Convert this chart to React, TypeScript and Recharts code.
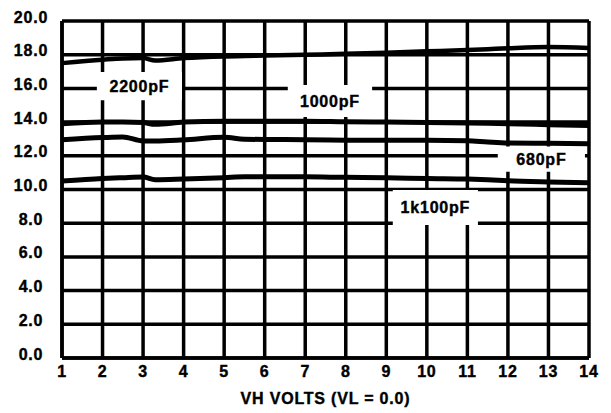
import { LineChart, Line, XAxis, YAxis, CartesianGrid, ReferenceArea } from "recharts";

// VH volts (x axis)
const vhVolts = [1, 2, 2.5, 3, 3.3, 4, 5, 5.5, 6, 7, 8, 9, 10, 11, 11.5, 12, 13, 14];

// curve values
const c2200 = [17.5, 17.7, 17.78, 17.8, 17.65, 17.8, 17.9, 17.92, 17.95, 18.0, 18.05, 18.12, 18.2, 18.28, 18.33, 18.38, 18.45, 18.4];
const c1000 = [13.9, 14.0, 14.0, 13.97, 13.87, 14.0, 14.05, 14.05, 14.05, 14.05, 14.02, 14.0, 13.98, 13.95, 13.93, 13.9, 13.85, 13.8];
const c680 = [12.95, 13.08, 13.12, 12.88, 12.88, 12.95, 13.1, 12.98, 12.97, 12.95, 12.93, 12.92, 12.92, 12.9, 12.82, 12.76, 12.74, 12.72];
const c1k100 = [10.5, 10.65, 10.7, 10.74, 10.58, 10.62, 10.7, 10.75, 10.75, 10.75, 10.72, 10.7, 10.65, 10.62, 10.58, 10.52, 10.45, 10.4];

const xTicks = [1, 2, 3, 4, 5, 6, 7, 8, 9, 10, 11, 12, 13, 14];
const yTicks = [0, 2, 4, 6, 8, 10, 12, 14, 16, 18, 20];

// curve labels with their white boxes (data units)
const labels = [
  { text: "2200pF", x1: 1.86, x2: 3.96, y1: 15.3, y2: 16.97 },
  { text: "1000pF", x1: 6.57, x2: 8.65, y1: 14.3, y2: 16.2 },
  { text: "680pF", x1: 11.75, x2: 13.9, y1: 11.05, y2: 12.55 },
  { text: "1k100pF", x1: 9.16, x2: 11.26, y1: 7.9, y2: 9.97 },
];

const data = vhVolts.map((v, i) => ({
  v,
  c2200: c2200[i],
  c1000: c1000[i],
  c680: c680[i],
  c1k100: c1k100[i],
}));

const FONT = "'Liberation Sans', Arial, Helvetica, sans-serif";
const textStyle = {
  fontFamily: FONT,
  fontWeight: 700,
  fontSize: 16,
  letterSpacing: 0.8,
  fill: "#000",
  stroke: "#000",
  strokeWidth: 0.4,
};

const YTick = ({ payload, y }: any) => (
  <text x={31} y={y + 1.5} textAnchor="middle" style={textStyle}>
    {payload.value.toFixed(1)}
  </text>
);

const XTick = ({ payload, x }: any) => (
  <text x={x} y={377} textAnchor="middle" style={textStyle}>
    {payload.value}
  </text>
);

const BoxLabel = ({ viewBox, value }: any) => (
  <text
    x={viewBox.x + viewBox.width / 2}
    y={viewBox.y + viewBox.height / 2 + 6}
    textAnchor="middle"
    style={textStyle}
  >
    {value}
  </text>
);

export default function App() {
  return (
    <div style={{ position: "fixed", left: 0, top: 0, background: "#fff" }}>
      <LineChart
        width={611}
        height={413}
        data={data}
        margin={{ top: 21, right: 22, bottom: 0, left: 0 }}
      >
        <CartesianGrid stroke="#000" strokeWidth={3.5} />
        <XAxis
          dataKey="v"
          type="number"
          domain={[1, 14]}
          ticks={xTicks}
          height={55}
          tick={<XTick />}
          tickLine={false}
          axisLine={{ stroke: "#000", strokeWidth: 3.5 }}
          label={{
            value: "VH VOLTS (VL = 0.0)",
            content: ({ viewBox }: any) => (
              <text
                x={viewBox.x + viewBox.width / 2}
                y={404}
                textAnchor="middle"
                style={textStyle}
              >
                VH VOLTS (VL = 0.0)
              </text>
            ),
          }}
        />
        <YAxis
          type="number"
          domain={[0, 20]}
          ticks={yTicks}
          width={62}
          tick={<YTick />}
          tickLine={false}
          axisLine={{ stroke: "#000", strokeWidth: 3.5 }}
        />
        <Line type="monotone" dataKey="c2200" stroke="#000" strokeWidth={4.5} dot={false} isAnimationActive={false} />
        <Line type="monotone" dataKey="c1000" stroke="#000" strokeWidth={5} dot={false} isAnimationActive={false} />
        <Line type="monotone" dataKey="c680" stroke="#000" strokeWidth={5} dot={false} isAnimationActive={false} />
        <Line type="monotone" dataKey="c1k100" stroke="#000" strokeWidth={5} dot={false} isAnimationActive={false} />
        {labels.map((l) => (
          <ReferenceArea
            key={l.text}
            x1={l.x1}
            x2={l.x2}
            y1={l.y1}
            y2={l.y2}
            fill="#fff"
            fillOpacity={1}
            stroke="none"
            label={<BoxLabel value={l.text} />}
          />
        ))}
      </LineChart>
    </div>
  );
}
